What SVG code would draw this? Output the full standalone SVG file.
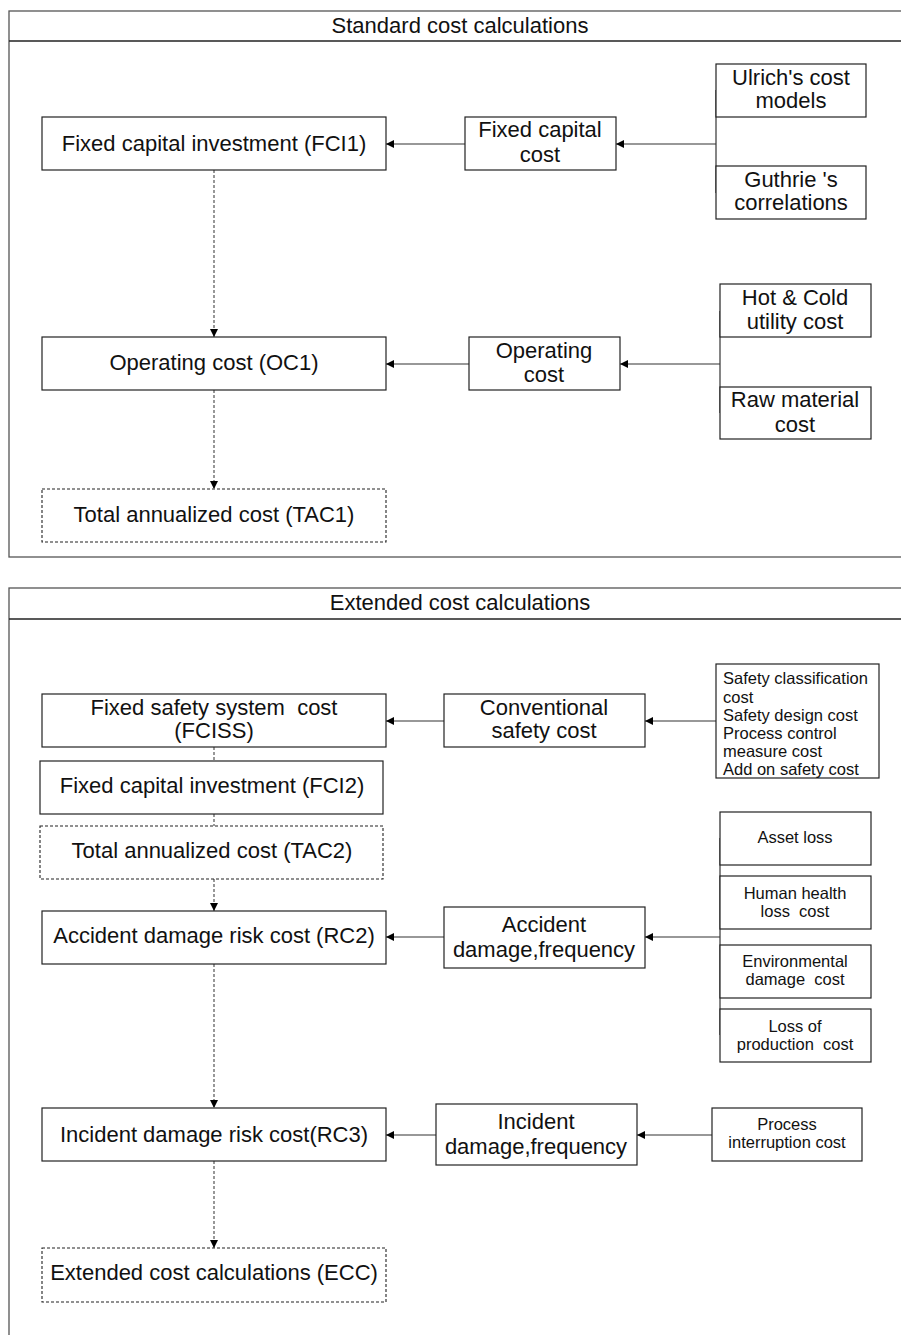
<svg xmlns="http://www.w3.org/2000/svg" width="901" height="1335" viewBox="0 0 901 1335">
<defs>
<style>
.panel{fill:none;stroke:#555;stroke-width:1.3}
.hdr{stroke:#222;stroke-width:1.3}
.box{fill:#fff;stroke:#222;stroke-width:1.2}
.dbox{fill:#fff;stroke:#222;stroke-width:1.1;stroke-dasharray:3,2}
.t{font-family:"Liberation Sans",Arial,sans-serif;font-size:22px;fill:#111;text-anchor:middle}
.s{font-family:"Liberation Sans",Arial,sans-serif;font-size:16.5px;fill:#111;text-anchor:middle}
.sl{font-family:"Liberation Sans",Arial,sans-serif;font-size:16.5px;fill:#111}
.c{fill:none;stroke:#333;stroke-width:1.2}
.d{fill:none;stroke:#444;stroke-width:1.1;stroke-dasharray:3,2}
</style>
<marker id="ah" viewBox="0 0 10 10" refX="10" refY="5" markerWidth="9" markerHeight="8" markerUnits="userSpaceOnUse" orient="auto">
<path d="M0,0 L10,5 L0,10 z" fill="#000"/>
</marker>
</defs>
<rect width="901" height="1335" fill="#fff"/>

<g id="panel-standard">
<rect class="panel" x="9" y="11" width="950" height="546"/>
<line class="hdr" x1="9" y1="41" x2="901" y2="41"/>
<text class="t" x="460" y="33">Standard cost calculations</text>
</g>
<g id="panel-extended">
<rect class="panel" x="9" y="588" width="950" height="800"/>
<line class="hdr" x1="9" y1="619" x2="901" y2="619"/>
<text class="t" x="460" y="610">Extended cost calculations</text>
</g>

<g id="connectors">
<line class="c" x1="465" y1="144" x2="386" y2="144" marker-end="url(#ah)"/>
<line class="c" x1="716" y1="90" x2="716" y2="193"/>
<line class="c" x1="716" y1="144" x2="616" y2="144" marker-end="url(#ah)"/>
<line class="d" x1="214" y1="170" x2="214" y2="337" marker-end="url(#ah)"/>
<line class="c" x1="469" y1="364" x2="386" y2="364" marker-end="url(#ah)"/>
<line class="c" x1="720" y1="311" x2="720" y2="413"/>
<line class="c" x1="720" y1="364" x2="620" y2="364" marker-end="url(#ah)"/>
<line class="d" x1="214" y1="390" x2="214" y2="489" marker-end="url(#ah)"/>

<line class="c" x1="444" y1="721" x2="386" y2="721" marker-end="url(#ah)"/>
<line class="c" x1="716" y1="721" x2="645" y2="721" marker-end="url(#ah)"/>
<line class="d" x1="214" y1="747" x2="214" y2="761"/>
<line class="d" x1="214" y1="814" x2="214" y2="826"/>
<line class="d" x1="214" y1="879" x2="214" y2="911" marker-end="url(#ah)"/>
<line class="c" x1="444" y1="937" x2="386" y2="937" marker-end="url(#ah)"/>
<line class="c" x1="720" y1="838" x2="720" y2="1035"/>
<line class="c" x1="720" y1="937" x2="645" y2="937" marker-end="url(#ah)"/>
<line class="d" x1="214" y1="964" x2="214" y2="1108" marker-end="url(#ah)"/>
<line class="c" x1="436" y1="1135" x2="386" y2="1135" marker-end="url(#ah)"/>
<line class="c" x1="712" y1="1135" x2="637" y2="1135" marker-end="url(#ah)"/>
<line class="d" x1="214" y1="1161" x2="214" y2="1248" marker-end="url(#ah)"/>
</g>

<g id="fci1"><rect class="box" x="42" y="117" width="344" height="53"/><text class="t" x="214" y="151">Fixed capital investment (FCI1)</text></g>
<g id="fixed-capital-cost"><rect class="box" x="465" y="117" width="151" height="53"/><text class="t" x="540" y="137">Fixed capital</text><text class="t" x="540" y="162">cost</text></g>
<g id="ulrich"><rect class="box" x="716" y="64" width="150" height="53"/><text class="t" x="791" y="85">Ulrich's cost</text><text class="t" x="791" y="108">models</text></g>
<g id="guthrie"><rect class="box" x="716" y="166" width="150" height="53"/><text class="t" x="791" y="187">Guthrie 's</text><text class="t" x="791" y="210">correlations</text></g>
<g id="oc1"><rect class="box" x="42" y="337" width="344" height="53"/><text class="t" x="214" y="370">Operating cost (OC1)</text></g>
<g id="operating-cost"><rect class="box" x="469" y="337" width="151" height="53"/><text class="t" x="544" y="358">Operating</text><text class="t" x="544" y="382">cost</text></g>
<g id="hot-cold"><rect class="box" x="720" y="284" width="151" height="53"/><text class="t" x="795" y="305">Hot &amp; Cold</text><text class="t" x="795" y="329">utility cost</text></g>
<g id="raw-material"><rect class="box" x="720" y="387" width="151" height="52"/><text class="t" x="795" y="407">Raw material</text><text class="t" x="795" y="432">cost</text></g>
<g id="tac1"><rect class="dbox" x="42" y="489" width="344" height="53"/><text class="t" x="214" y="522">Total annualized cost (TAC1)</text></g>

<g id="fciss"><rect class="box" x="42" y="694" width="344" height="53"/><text class="t" x="214" y="715" xml:space="preserve">Fixed safety system  cost</text><text class="t" x="214" y="738">(FCISS)</text></g>
<g id="conventional"><rect class="box" x="444" y="694" width="201" height="53"/><text class="t" x="544" y="715">Conventional</text><text class="t" x="544" y="738">safety cost</text></g>
<g id="safety-items"><rect class="box" x="716" y="664" width="163" height="114"/>
<text class="sl" x="723" y="684">Safety classification</text>
<text class="sl" x="723" y="703">cost</text>
<text class="sl" x="723" y="721">Safety design cost</text>
<text class="sl" x="723" y="739">Process control</text>
<text class="sl" x="723" y="757">measure cost</text>
<text class="sl" x="723" y="775">Add on safety cost</text></g>
<g id="fci2"><rect class="box" x="40" y="761" width="343" height="53"/><text class="t" x="212" y="793">Fixed capital investment (FCI2)</text></g>
<g id="tac2"><rect class="dbox" x="40" y="826" width="343" height="53"/><text class="t" x="212" y="858">Total annualized cost (TAC2)</text></g>
<g id="rc2"><rect class="box" x="42" y="911" width="344" height="53"/><text class="t" x="214" y="943">Accident damage risk cost (RC2)</text></g>
<g id="accident"><rect class="box" x="444" y="907" width="201" height="61"/><text class="t" x="544" y="932">Accident</text><text class="t" x="544" y="957">damage,frequency</text></g>
<g id="asset-loss"><rect class="box" x="720" y="812" width="151" height="53"/><text class="s" x="795" y="843">Asset loss</text></g>
<g id="human-health"><rect class="box" x="720" y="876" width="151" height="53"/><text class="s" x="795" y="899">Human health</text><text class="s" x="795" y="917" xml:space="preserve">loss  cost</text></g>
<g id="environmental"><rect class="box" x="720" y="945" width="151" height="53"/><text class="s" x="795" y="967">Environmental</text><text class="s" x="795" y="985" xml:space="preserve">damage  cost</text></g>
<g id="loss-production"><rect class="box" x="720" y="1009" width="151" height="53"/><text class="s" x="795" y="1032">Loss of</text><text class="s" x="795" y="1050" xml:space="preserve">production  cost</text></g>
<g id="rc3"><rect class="box" x="42" y="1108" width="344" height="53"/><text class="t" x="214" y="1142">Incident damage risk cost(RC3)</text></g>
<g id="incident"><rect class="box" x="436" y="1104" width="201" height="61"/><text class="t" x="536" y="1129">Incident</text><text class="t" x="536" y="1154">damage,frequency</text></g>
<g id="process-interruption"><rect class="box" x="712" y="1108" width="150" height="53"/><text class="s" x="787" y="1130">Process</text><text class="s" x="787" y="1148">interruption cost</text></g>
<g id="ecc"><rect class="dbox" x="42" y="1248" width="344" height="54"/><text class="t" x="214" y="1280">Extended cost calculations (ECC)</text></g>
</svg>
